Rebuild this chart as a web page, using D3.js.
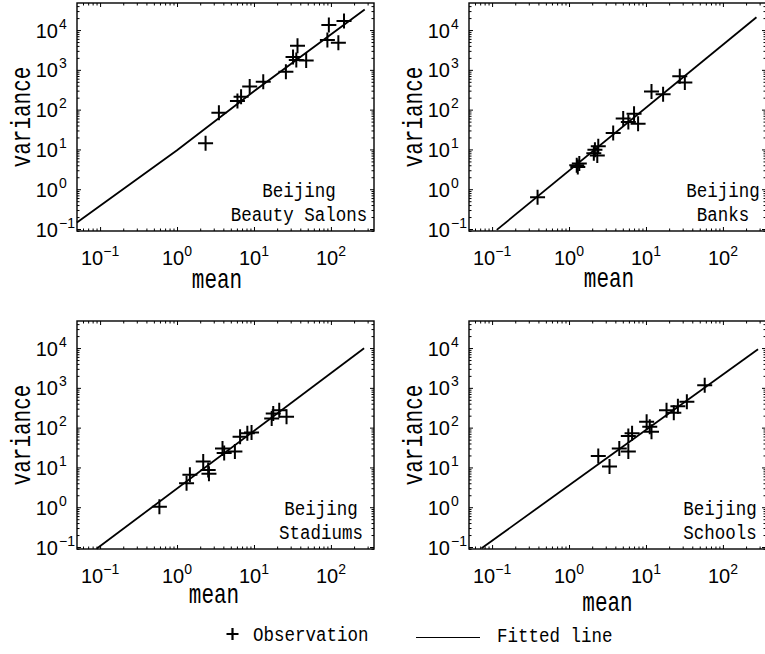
<!DOCTYPE html>
<html><head><meta charset="utf-8">
<script src="https://cdn.jsdelivr.net/npm/d3@7"></script>
<style>body{margin:0;background:#fff}</style>
</head><body>
<svg id="chart" width="765" height="654"></svg>
<script>
// ---- data ----
const cityLabel = "Beijing";
const panelNames = ["Beauty Salons", "Banks", "Stadiums", "Schools"];
const xTickExps = [-1, 0, 1, 2];
const yTickExps = [-1, 0, 1, 2, 3, 4];
const xLabel = "mean";
const yLabel = "variance";
const legendLabels = ["Observation", "Fitted line"];

const salonsMean = [2.35, 3.5, 6.1, 6.8, 8.8, 13.2, 26, 32.2, 35.5, 36.8, 47.7, 90, 94, 125, 148];
const salonsVar  = [14.3, 84, 165, 212, 380, 500, 890, 2100, 1780, 4050, 1720, 5600, 13400, 4800, 17000];
const salonsFitMean = [0.05, 1, 10, 275];
const salonsFitVar  = [0.145, 9.5, 290, 33000];

const banksMean = [0.39, 1.26, 1.36, 1.3, 2.1, 2.17, 2.33, 2.4, 3.75, 5.06, 5.9, 7.0, 7.9, 11.8, 16.7, 27.5, 32];
const banksVar  = [0.63, 4.0, 4.4, 3.6, 8, 9.8, 7, 12, 26, 60, 49, 79, 44, 285, 243, 690, 480];
const banksFitMean = [0.115, 273];
const banksFitVar  = [0.095, 21000];

const stadiumsMean = [0.59, 1.33, 1.47, 2.19, 2.54, 2.6, 3.9, 4.1, 5.65, 6.6, 8.2, 9.3, 17, 17.8, 21.3, 26.5];
const stadiumsVar  = [1.03, 4.0, 6.5, 14, 8.6, 6.9, 30, 23, 25, 59, 72, 76, 170, 227, 275, 187];
const stadiumsFitMean = [0.09, 270];
const stadiumsFitVar  = [0.09, 9900];

const schoolsMean = [2.4, 3.36, 4.5, 5.9, 6.6, 5.9, 10.2, 11.2, 11.8, 18.5, 23, 26, 34, 58];
const schoolsVar  = [19.4, 10.5, 30, 62, 72, 25, 141, 105, 79, 275, 237, 345, 445, 1170];
const schoolsFitMean = [0.073, 286];
const schoolsFitVar  = [0.093, 9300];

// ---- layout ----
const W = 297, H = 228;
const panels = [
  {x: 77,  y: 3,   mean: salonsMean,   vari: salonsVar,   fm: salonsFitMean,   fv: salonsFitVar,   name: panelNames[0], tx: 222, meanDx: -8.5, meanY: 285},
  {x: 469, y: 3,   mean: banksMean,    vari: banksVar,    fm: banksFitMean,    fv: banksFitVar,    name: panelNames[1], tx: 254, meanDx: -8.5, meanY: 284},
  {x: 77,  y: 321, mean: stadiumsMean, vari: stadiumsVar, fm: stadiumsFitMean, fv: stadiumsFitVar, name: panelNames[2], tx: 244, meanDx: -11.5, meanY: 282},
  {x: 469, y: 321, mean: schoolsMean,  vari: schoolsVar,  fm: schoolsFitMean,  fv: schoolsFitVar,  name: panelNames[3], tx: 251, meanDx: -10, meanY: 290}
];

const x = d3.scaleLog().domain([Math.pow(10, -1.3), Math.pow(10, 2.56)]).range([0, W]);
const y = d3.scaleLog().domain([Math.pow(10, -1.05), Math.pow(10, 4.68)]).range([H, 0]);

const xMajor = xTickExps.map(e => Math.pow(10, e));
const yMajor = yTickExps.map(e => Math.pow(10, e));
function minors(scale) {
  const [a, b] = scale.domain();
  const out = [];
  for (let e = Math.floor(Math.log10(a)); e <= Math.ceil(Math.log10(b)); e++) {
    for (let k = 2; k <= 9; k++) {
      const v = k * Math.pow(10, e);
      if (v >= a && v <= b) out.push(v);
    }
  }
  return out;
}
const xMinor = minors(x), yMinor = minors(y);

const svg = d3.select("#chart");
const SANS = "'Liberation Sans', Arial, sans-serif";
const MONO = "'Liberation Mono', 'DejaVu Sans Mono', monospace";
const sup = e => (e < 0 ? "\u2212" + Math.abs(e) : String(e));

panels.forEach(p => {
  const g = svg.append("g").attr("transform", `translate(${p.x},${p.y})`);

  // inward ticks on all four sides (major + minor)
  const specs = [
    [d3.axisBottom, x, `translate(0,${H})`],
    [d3.axisTop, x, null],
    [d3.axisLeft, y, null],
    [d3.axisRight, y, `translate(${W},0)`]
  ];
  specs.forEach(([axFn, sc, tr]) => {
    const maj = sc === x ? xMajor : yMajor;
    const mnr = sc === x ? xMinor : yMinor;
    [[maj, 4], [mnr, 2.5]].forEach(([vals, len]) => {
      const a = g.append("g");
      if (tr) a.attr("transform", tr);
      a.call(axFn(sc).tickValues(vals).tickSize(-len).tickSizeOuter(0).tickFormat(""));
      a.select(".domain").remove();
      a.selectAll(".tick line").attr("stroke", "#000").attr("stroke-width", 1);
    });
  });

  // box
  g.append("rect").attr("width", W).attr("height", H)
    .attr("fill", "none").attr("stroke", "#000").attr("stroke-width", 1.4);

  // x tick labels
  xTickExps.forEach(e => {
    const t = g.append("text")
      .attr("x", x(Math.pow(10, e))).attr("y", H + 34)
      .attr("text-anchor", "middle")
      .attr("font-family", SANS).attr("font-size", 20).attr("fill", "#000");
    t.append("tspan").text("10");
    t.append("tspan").attr("dy", -9).attr("font-size", 14).text(sup(e));
  });
  // y tick labels
  yTickExps.forEach(e => {
    const ty = y(Math.pow(10, e));
    g.append("text").attr("x", -19).attr("y", ty + 7.5)
      .attr("text-anchor", "end").attr("font-family", SANS).attr("font-size", 20)
      .attr("fill", "#000").text("10");
    g.append("text").attr("x", -18).attr("y", ty - 1.5)
      .attr("font-family", SANS).attr("font-size", 14)
      .attr("fill", "#000").text(sup(e));
  });

  // axis labels
  g.append("text")
    .attr("transform", `translate(${W / 2 + p.meanDx},${p.meanY}) scale(1,1.35)`)
    .attr("text-anchor", "middle").attr("font-family", MONO).attr("font-size", 21)
    .attr("fill", "#000").text(xLabel);
  g.append("text")
    .attr("transform", `translate(-47,${H / 2}) rotate(-90) scale(1,1.35)`)
    .attr("text-anchor", "middle").attr("font-family", MONO).attr("font-size", 21)
    .attr("fill", "#000").text(yLabel);

  // fitted line
  const fit = p.fm.map((m, i) => [m, p.fv[i]]);
  g.append("path").datum(fit)
    .attr("d", d3.line().x(d => x(d[0])).y(d => y(d[1])))
    .attr("fill", "none").attr("stroke", "#000").attr("stroke-width", 1.8);

  // observations
  const obs = p.mean.map((m, i) => [m, p.vari[i]]);
  g.selectAll("path.obs").data(obs).enter().append("path")
    .attr("class", "obs")
    .attr("transform", d => `translate(${x(d[0])},${y(d[1])})`)
    .attr("d", "M-7.5,0H7.5M0,-7.5V7.5")
    .attr("stroke", "#000").attr("stroke-width", 2).attr("fill", "none");

  // panel text
  [[cityLabel, 194], [p.name, 218]].forEach(([s, dy]) => {
    g.append("text")
      .attr("transform", `translate(${p.tx},${dy}) scale(1,1.17)`)
      .attr("text-anchor", "middle").attr("font-family", MONO).attr("font-size", 17.5)
      .attr("fill", "#000").text(s);
  });
});

// legend
const lg = svg.append("g");
lg.append("path").attr("transform", "translate(232.5,634)")
  .attr("d", "M-6,0H6M0,-6V6").attr("stroke", "#000").attr("stroke-width", 2.2);
lg.append("text").attr("transform", "translate(253,641) scale(1,1.17)")
  .attr("font-family", MONO).attr("font-size", 17.5).attr("fill", "#000").text(legendLabels[0]);
lg.append("line").attr("x1", 416).attr("x2", 480).attr("y1", 637.5).attr("y2", 637.5)
  .attr("stroke", "#000").attr("stroke-width", 1.2);
lg.append("text").attr("transform", "translate(497,642) scale(1,1.17)")
  .attr("font-family", MONO).attr("font-size", 17.5).attr("fill", "#000").text(legendLabels[1]);
</script>
</body></html>
